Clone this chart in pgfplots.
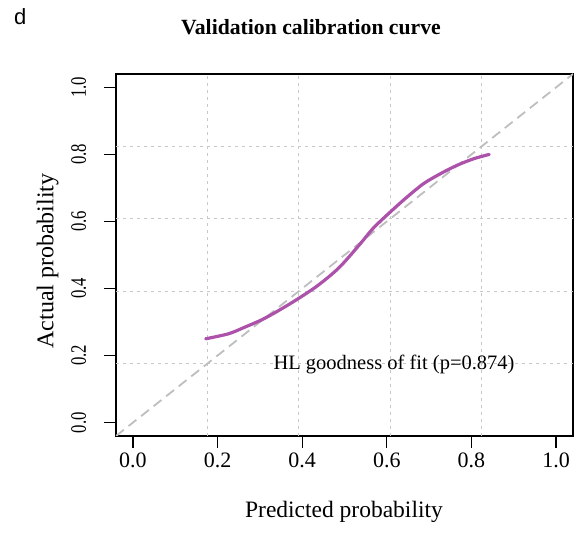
\documentclass[border=0pt]{standalone}
\usepackage{pgfplots}
\pgfplotsset{compat=1.18}
\usepackage{fontspec}
\setmainfont{Liberation Serif}
\newfontfamily\labfont{Liberation Sans}
\newfontfamily\narrowserif[FakeStretch=0.76]{Liberation Serif}
\definecolor{curvecol}{RGB}{172,82,170}
\definecolor{gridcol}{RGB}{200,200,200}
\definecolor{diagcol}{RGB}{190,190,190}
\begin{document}
\begin{tikzpicture}
\begin{axis}[
  scale only axis,
  width=457pt, height=362pt,
  xmin=-0.04, xmax=1.04, ymin=-0.04, ymax=1.04,
  axis line style={line width=1.3pt},
  xtick={0,0.2,0.4,0.6,0.8,1.0},
  ytick={0,0.2,0.4,0.6,0.8,1.0},
  tick align=outside,
  major tick length=12pt,
  tick style={line width=1.2pt, black},
  xtick pos=bottom, ytick pos=left,
  /pgf/number format/assume math mode=true,
  /pgf/number format/fixed, /pgf/number format/fixed zerofill,
  /pgf/number format/precision=1,
  xticklabel style={font=\fontsize{22}{24}\selectfont, anchor=base, yshift=-20pt},
  typeset ticklabels with strut,
  yticklabel style={font=\narrowserif\fontsize{22}{24}\selectfont, rotate=90, anchor=base, yshift=18pt},
  extra x ticks={0.176,0.392,0.608,0.824},
  extra y ticks={0.176,0.392,0.608,0.824},
  extra tick style={grid=major, major tick length=0pt, tick style={draw=none}},
  extra x tick labels={}, extra y tick labels={},
  grid style={gridcol, line width=1.3pt, dash pattern=on 3pt off 4pt},
  clip=true,
]
\addplot[diagcol, line width=1.8pt, dash pattern=on 10pt off 6pt] coordinates {(-0.04,-0.04) (1.04,1.04)};
\addplot[curvecol, line width=3.2pt, smooth, line cap=round] coordinates {
(0.172,0.250)
(0.226,0.265)
(0.265,0.285)
(0.305,0.307)
(0.344,0.334)
(0.391,0.370)
(0.438,0.410)
(0.487,0.462)
(0.535,0.530)
(0.568,0.580)
(0.608,0.628)
(0.647,0.672)
(0.687,0.713)
(0.726,0.742)
(0.765,0.767)
(0.805,0.787)
(0.842,0.800)
};
\node[anchor=base, font=\fontsize{20.5}{22}\selectfont, inner sep=0pt] at (axis cs:0.617,0.158) {HL goodness of fit (p=0.874)};
\end{axis}
\node[anchor=base west, inner sep=0pt, font=\labfont\fontsize{22}{24}\selectfont] at (-102pt,411pt) {d};
\node[anchor=base, inner sep=0pt, font=\bfseries\fontsize{21.7}{24}\selectfont] at (195pt,401pt) {Validation calibration curve};
\node[anchor=base, inner sep=0pt, font=\fontsize{23.5}{26}\selectfont] at (228pt,-82pt) {Predicted probability};
\node[anchor=base, rotate=90, inner sep=0pt, font=\fontsize{24}{26}\selectfont] at (-62.7pt,175pt) {Actual probability};
\pgfresetboundingbox
\path[use as bounding box] (-116pt,-98pt) rectangle (463pt,436pt);
\end{tikzpicture}
\end{document}
